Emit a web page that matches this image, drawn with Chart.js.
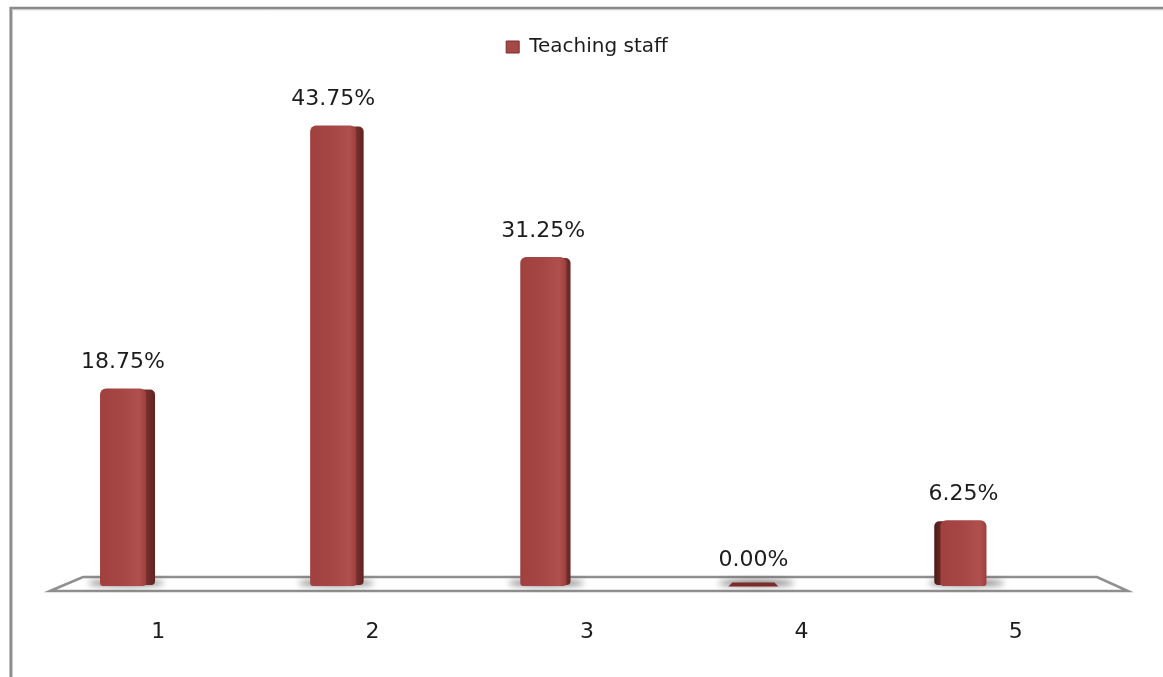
<!DOCTYPE html>
<html>
<head>
<meta charset="utf-8">
<script src="https://cdn.jsdelivr.net/npm/chart.js@4.4.1/dist/chart.umd.min.js"></script>
<style>
  html, body { margin: 0; padding: 0; background: #ffffff; }
  canvas { display: block; }
</style>
</head>
<body>
<canvas id="chart" width="1163" height="677"></canvas>
<script>
// Survey answers 1-5, share of teaching staff (%)
const categories = ['1', '2', '3', '4', '5'];
const seriesName = 'Teaching staff';
const shares = [18.75, 43.75, 31.25, 0.00, 6.25];

const FONT_FAMILY = '"DejaVu Sans", "Open Sans", sans-serif';
const TEXT_COLOR = '#1c1c1c';

// 3-D view settings: columns stand on a receding floor, slightly behind
// the category labels, and show one side face turned to the vanishing line.
const view = {
  depthScale: 0.98,
  depthShift: -32,
  vanishX: 690,
  faceWidth: 46,
  floorBack: 9,
  floorFront: 5
};
const backX = x => x * view.depthScale + view.depthShift;

const paper = {
  id: 'paper',
  beforeDraw(chart) {
    const ctx = chart.ctx;
    ctx.save();
    ctx.fillStyle = '#ffffff';
    ctx.fillRect(0, 0, chart.width, chart.height);
    ctx.restore();
  },
  afterDraw(chart) {
    const ctx = chart.ctx;
    ctx.save();
    ctx.strokeStyle = '#8a8a8a';
    ctx.lineWidth = 2.5;
    ctx.beginPath();
    ctx.moveTo(10.7, chart.height);
    ctx.lineTo(10.7, 8);
    ctx.lineTo(chart.width, 8);
    ctx.stroke();
    ctx.strokeStyle = 'rgba(190,190,190,0.8)';
    ctx.lineWidth = 1;
    ctx.beginPath();
    ctx.moveTo(12.5, chart.height);
    ctx.lineTo(12.5, 9.8);
    ctx.lineTo(chart.width, 9.8);
    ctx.stroke();
    ctx.restore();
  }
};

const columns3d = {
  id: 'columns3d',
  beforeDatasetsDraw(chart) {
    const ctx = chart.ctx;
    const { left, right } = chart.chartArea;
    const base = chart.scales.y.getPixelForValue(0);
    // floor
    ctx.save();
    ctx.beginPath();
    ctx.moveTo(left - 1, base + view.floorFront);
    ctx.lineTo(left + 32, base - view.floorBack);
    ctx.lineTo(right - 26, base - view.floorBack);
    ctx.lineTo(right + 5, base + view.floorFront);
    ctx.closePath();
    ctx.fillStyle = '#ffffff';
    ctx.fill();
    ctx.strokeStyle = '#8f8f8f';
    ctx.lineWidth = 2.5;
    ctx.stroke();
    ctx.restore();
    // soft shadows on the floor
    const meta = chart.getDatasetMeta(0);
    meta.data.forEach(el => {
      const bx = backX(el.x);
      ctx.save();
      ctx.filter = 'blur(3px)';
      ctx.fillStyle = 'rgba(40,40,40,0.8)';
      ctx.beginPath();
      ctx.ellipse(bx + 3, base - 3, 38, 2.5, 0, 0, Math.PI * 2);
      ctx.fill();
      ctx.restore();
    });
  },
  beforeDatasetDraw(chart, args) {
    const ctx = chart.ctx;
    const meta = args.meta;
    meta.data.forEach(el => {
      const bx = backX(el.x);
      const top = el.y;
      const base = el.base;
      const w = view.faceWidth;
      const l = bx - w / 2;
      const r = bx + w / 2;
      const h = base - top;
      ctx.save();
      if (h < 1.5) {
        // flat slab for an empty column
        ctx.fillStyle = '#7a2b2a';
        ctx.beginPath();
        ctx.moveTo(l + 2, base - 3.5);
        ctx.lineTo(r - 2, base - 3.5);
        ctx.lineTo(r + 2, base + 0.5);
        ctx.lineTo(l - 2, base + 0.5);
        ctx.closePath();
        ctx.fill();
        ctx.restore();
        return;
      }
      const dist = Math.abs(bx - view.vanishX);
      const sw = Math.min(9, 2 + dist / 65);
      const sideRight = bx < view.vanishX;
      // side face
      const sg = ctx.createLinearGradient(sideRight ? r : l - sw, 0, sideRight ? r + sw : l, 0);
      if (sideRight) {
        sg.addColorStop(0, '#7a302f');
        sg.addColorStop(1, '#5f2322');
      } else {
        sg.addColorStop(0, '#4a1b1a');
        sg.addColorStop(1, '#6a2726');
      }
      ctx.fillStyle = sg;
      ctx.beginPath();
      if (sideRight) {
        ctx.roundRect(r - 5, top + 1, sw + 5, h - 2, [2, 5, 4, 2]);
      } else {
        ctx.roundRect(l - sw, top + 1, sw + 5, h - 2, [5, 2, 2, 4]);
      }
      ctx.fill();
      // front face
      const fg = ctx.createLinearGradient(l, 0, r, 0);
      fg.addColorStop(0, '#a04140');
      fg.addColorStop(0.5, '#a64745');
      fg.addColorStop(0.85, '#b0504e');
      fg.addColorStop(1, '#9c3f3d');
      ctx.fillStyle = fg;
      ctx.beginPath();
      ctx.roundRect(l, top, w, h, [6, 6, 3, 3]);
      ctx.fill();
      ctx.restore();
    });
    return false;
  },
  afterDatasetsDraw(chart) {
    const ctx = chart.ctx;
    const meta = chart.getDatasetMeta(0);
    const values = chart.data.datasets[0].data;
    ctx.save();
    ctx.font = '22px ' + FONT_FAMILY;
    ctx.fillStyle = TEXT_COLOR;
    ctx.textAlign = 'center';
    ctx.textBaseline = 'middle';
    meta.data.forEach((el, i) => {
      ctx.fillText(values[i].toFixed(2) + '%', backX(el.x), el.y - 26);
    });
    ctx.restore();
  }
};

new Chart(document.getElementById('chart'), {
  type: 'bar',
  data: {
    labels: categories,
    datasets: [{
      label: seriesName,
      data: shares,
      backgroundColor: '#a64846',
      borderColor: '#7a2d2b',
      borderWidth: 1
    }]
  },
  options: {
    responsive: false,
    devicePixelRatio: 1,
    animation: false,
    layout: { padding: { left: 51, right: 40, top: 33, bottom: 30 } },
    plugins: {
      legend: {
        position: 'top',
        labels: {
          font: { family: FONT_FAMILY, size: 20 },
          color: TEXT_COLOR,
          boxWidth: 13,
          boxHeight: 12,
          padding: 4
        }
      },
      tooltip: { enabled: false }
    },
    scales: {
      x: {
        offset: true,
        grid: { display: false, drawTicks: false },
        border: { display: false },
        ticks: {
          font: { family: FONT_FAMILY, size: 22 },
          color: TEXT_COLOR,
          padding: 33
        },
        afterFit(scale) { scale.height = 61; }
      },
      y: {
        display: false,
        min: 0,
        max: 49.3
      }
    }
  },
  plugins: [paper, columns3d]
});
</script>
</body>
</html>
